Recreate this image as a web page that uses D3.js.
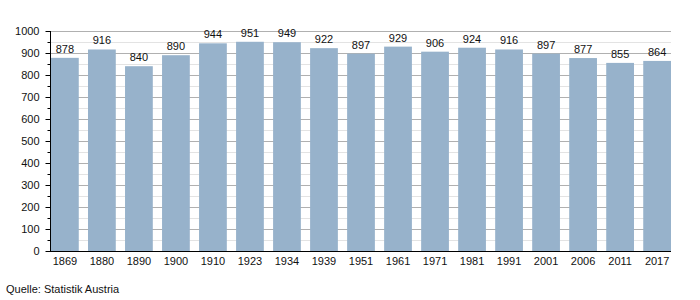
<!DOCTYPE html>
<html>
<head>
<meta charset="utf-8">
<script src="https://cdn.jsdelivr.net/npm/d3@7"></script>
<style>
  body { margin: 0; background: #fff; }
  text { font-family: "Liberation Sans", Arial, sans-serif; font-size: 11px; fill: #111; }
</style>
</head>
<body>
<div id="chart"></div>
<script>
// Einwohnerentwicklung
var years = ["1869","1880","1890","1900","1910","1923","1934","1939","1951","1961","1971","1981","1991","2001","2006","2011","2017"];
var population = [878, 916, 840, 890, 944, 951, 949, 922, 897, 929, 906, 924, 916, 897, 877, 855, 864];
var yTicks = [0, 100, 200, 300, 400, 500, 600, 700, 800, 900, 1000];
var yMinor = [50, 150, 250, 350, 450, 550, 650, 750, 850, 950];
var source = "Quelle: Statistik Austria";

var width = 700, height = 300;
var plotLeft = 50, plotRight = 671, plotTop = 31, plotBottom = 251;

var svg = d3.select("#chart").append("svg")
  .attr("width", width)
  .attr("height", height);

var x = d3.scaleBand()
  .domain(years)
  .range([51, plotRight])
  .paddingInner(0.25)
  .paddingOuter(0);

var y = d3.scaleLinear()
  .domain([0, 1000])
  .range([plotBottom, plotTop]);

function py(d) { return Math.round(y(d)) + 0.5; }

// gridlines
svg.append("g").selectAll("line")
  .data(yMinor)
  .enter().append("line")
  .attr("x1", plotLeft).attr("x2", plotRight)
  .attr("y1", py).attr("y2", py)
  .attr("stroke", "#e3e3e3");

svg.append("g").selectAll("line")
  .data(yTicks.slice(1))
  .enter().append("line")
  .attr("x1", plotLeft).attr("x2", plotRight)
  .attr("y1", py).attr("y2", py)
  .attr("stroke", "#b0b0b0");

// bars
svg.append("g").selectAll("rect")
  .data(population)
  .enter().append("rect")
  .attr("x", function(d, i) { return x(years[i]); })
  .attr("y", function(d) { return y(d); })
  .attr("width", x.bandwidth())
  .attr("height", function(d) { return plotBottom - y(d); })
  .attr("fill", "#97b2cb");

// value labels
svg.append("g").selectAll("text")
  .data(population)
  .enter().append("text")
  .attr("x", function(d, i) { return x(years[i]) + x.bandwidth() / 2; })
  .attr("y", function(d) { return y(d) - 5; })
  .attr("text-anchor", "middle")
  .text(function(d) { return d; });

// y axis
var yAxis = svg.append("g")
  .attr("transform", "translate(" + (plotLeft + 0.5) + ",0)")
  .call(d3.axisLeft(y).tickValues(yTicks).tickFormat(d3.format("d")).tickSize(5).tickPadding(6));
yAxis.select(".domain").attr("stroke", "#000").attr("d", "M0," + plotTop + "V" + plotBottom);
yAxis.selectAll(".tick line").attr("stroke", "#000");
yAxis.selectAll("text").style("font-size", "11px").attr("fill", "#111");

svg.append("g").selectAll("line")
  .data(yMinor)
  .enter().append("line")
  .attr("x1", plotLeft - 3 + 0.5).attr("x2", plotLeft + 0.5)
  .attr("y1", py).attr("y2", py)
  .attr("stroke", "#000");

// x axis
var xAxis = svg.append("g")
  .attr("transform", "translate(0," + (plotBottom + 0.5) + ")")
  .call(d3.axisBottom(x).tickSize(0).tickPadding(6));
xAxis.select(".domain").attr("stroke", "#000").attr("d", "M" + plotLeft + ",0H" + plotRight);
xAxis.selectAll("text").style("font-size", "11px").attr("fill", "#111");

svg.append("text")
  .attr("x", 6)
  .attr("y", 293)
  .text(source);
</script>
</body>
</html>
